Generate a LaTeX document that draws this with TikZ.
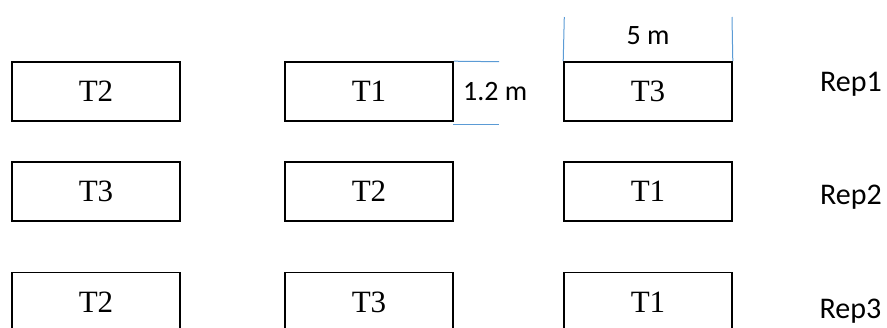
\documentclass[tikz,border=0pt]{standalone}
\usepackage{fontspec}
\setmainfont{Liberation Serif}
\newfontfamily\calfont{Carlito}
\usetikzlibrary{calc}
\definecolor{dimblue}{HTML}{5B9BD5}
\begin{document}
\begin{tikzpicture}[x=1pt,y=-1pt,
  plot/.style={draw=black,line width=1.6pt,minimum width=168pt,minimum height=59pt,inner sep=0pt,font=\fontsize{31}{31}\selectfont},
  replabel/.style={anchor=base west,inner sep=0pt,font=\calfont\fontsize{30}{30}\selectfont},
  dimlabel/.style={inner sep=0pt,font=\calfont\fontsize{28}{28}\selectfont},
  dimline/.style={draw=dimblue,line width=1pt}]
\useasboundingbox (0,0) rectangle (887,327);
% row 1
\node[plot] (a1) at (96,91.5) {T2};
\node[plot] (b1) at (369,91.5) {T1};
\node[plot] (c1) at (648,91.5) {T3};
% row 2
\node[plot] (a2) at (96,191.5) {T3};
\node[plot] (b2) at (369,191.5) {T2};
\node[plot] (c2) at (648,191.5) {T1};
% row 3
\node[plot] (a3) at (96,302) {T2};
\node[plot] (b3) at (369,302) {T3};
\node[plot] (c3) at (648,302) {T1};
% rep labels
\node[replabel] (r1) at (820,91.7) {Rep1};
\node[replabel] (r2) at (820,204) {Rep2};
\node[replabel] (r3) at (819.5,318) {Rep3};
% dimension 1.2 m
\coordinate (h1) at (499,61.7);
\coordinate (h2a) at (453,124.7);
\coordinate (h2) at (499,124.7);
\draw[dimline] (b1.north east) -- (h1);
\draw[dimline] (h2a) -- (h2);
\node[dimlabel,anchor=base west] (d12) at (463,100.7) {1.2 m};
% dimension 5 m
\coordinate (v1) at (564.3,17);
\coordinate (v2) at (732,17);
\draw[dimline] (c1.north west) -- (v1);
\draw[dimline] (c1.north east) -- (v2);
\node[dimlabel,anchor=base] (d5) at (648,44) {5 m};
\end{tikzpicture}
\end{document}
